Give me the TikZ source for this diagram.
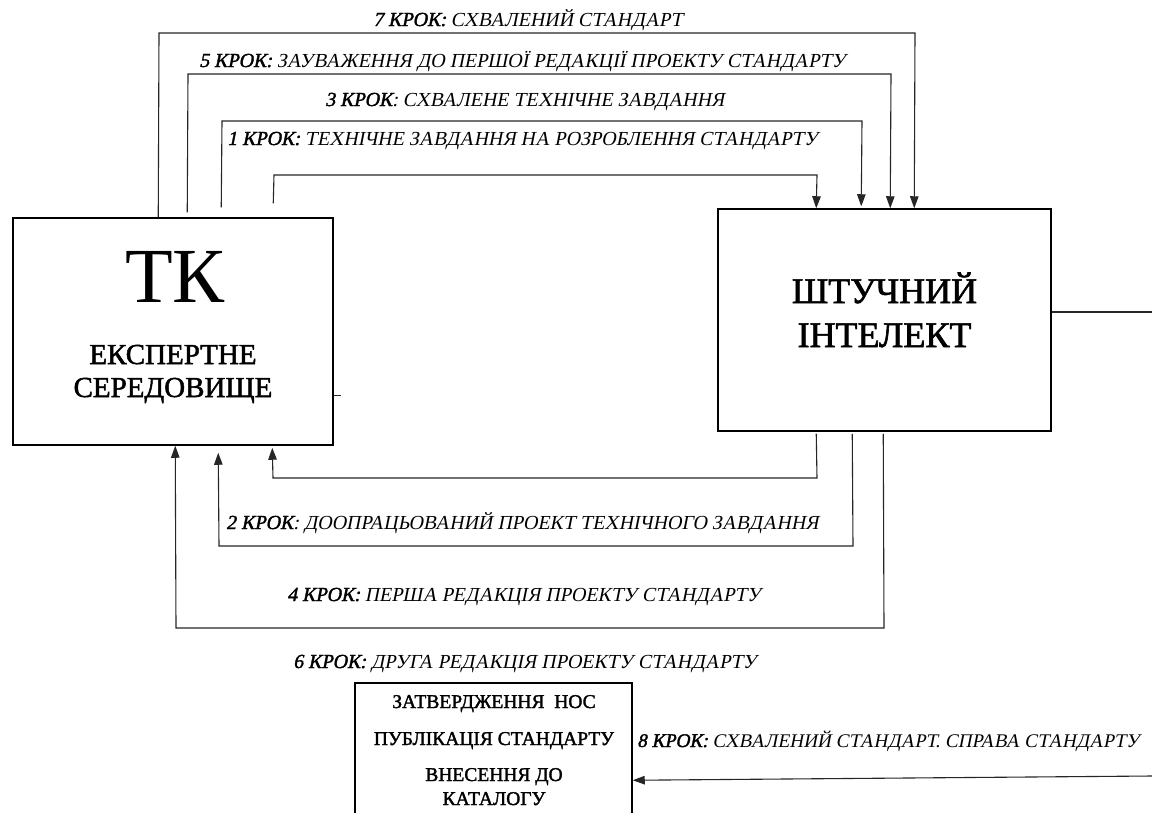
\documentclass[tikz,border=0pt]{standalone}
\usepackage{fontspec}
\setmainfont{Liberation Serif}[
  BoldFont={Liberation Serif}, BoldFeatures={FakeBold=1.7},
  ItalicFont={Liberation Serif}, ItalicFeatures={FakeSlant=0.2},
  BoldItalicFont={Liberation Serif}, BoldItalicFeatures={FakeBold=1.7,FakeSlant=0.2}]
\usetikzlibrary{arrows.meta,calc}
\begin{document}
\begin{tikzpicture}[x=1pt,y=-1pt,
  ln/.style={line width=1.1pt, draw=black!85},
  box/.style={draw, line width=1.5pt, inner sep=0pt, fill=none},
  arr/.style={ln, -{Triangle[length=12pt,width=8.5pt]}},
  lbl/.style={font=\fontsize{19.9}{24}\selectfont\itshape, inner sep=0pt, anchor=base west},
  big/.style={font=\fontsize{29}{32}\selectfont\bfseries, inner sep=0pt, anchor=base},
  ai/.style={font=\fontsize{36}{40}\selectfont\bfseries, inner sep=0pt, anchor=base},
  cat/.style={font=\fontsize{19.5}{24}\selectfont\bfseries, inner sep=0pt, anchor=base}]
\useasboundingbox (0,0) rectangle (1152,812);
\fill[white] (0,0) rectangle (1152,812);

% boxes
\node[box, minimum width=320pt, minimum height=227pt] (tk) at (173,331.5) {};
\node[box, minimum width=333pt, minimum height=222pt] (ai) at (884.5,320) {};
\node[box, minimum width=277pt, minimum height=160pt] (cat) at (493.5,763) {};

% box texts
\node[font=\fontsize{78}{80}\selectfont, inner sep=0pt, anchor=base] (tkt) at (175,302) {ТК};
\node[big] (tk1) at (173,364) {ЕКСПЕРТНЕ};
\node[big] (tk2) at (173,397) {СЕРЕДОВИЩЕ};
\node[ai] (ai1) at (884.5,303) {ШТУЧНИЙ};
\node[ai] (ai2) at (884.5,347) {ІНТЕЛЕКТ};
\node[cat] (c1) at (494,708) {ЗАТВЕРДЖЕННЯ~ НОС};
\node[cat] (c2) at (494,745) {ПУБЛІКАЦІЯ СТАНДАРТУ};
\node[cat] (c3) at (494,781) {ВНЕСЕННЯ ДО};
\node[cat] (c4) at (494,805) {КАТАЛОГУ};

% labels
\node[lbl] (l7) at (373,26) {\textbf{7 КРОК:} СХВАЛЕНИЙ СТАНДАРТ};
\node[lbl] (l5) at (199,67) {\textbf{5 КРОК:} ЗАУВАЖЕННЯ ДО ПЕРШОЇ РЕДАКЦІЇ ПРОЕКТУ СТАНДАРТУ};
\node[lbl] (l3) at (325,106) {\textbf{3 КРОК}: СХВАЛЕНЕ ТЕХНІЧНЕ ЗАВДАННЯ};
\node[lbl] (l1) at (227,145) {\textbf{1 КРОК:} ТЕХНІЧНЕ ЗАВДАННЯ НА РОЗРОБЛЕННЯ СТАНДАРТУ};
\node[lbl] (l2) at (226,529) {\textbf{2 КРОК}: ДООПРАЦЬОВАНИЙ ПРОЕКТ ТЕХНІЧНОГО ЗАВДАННЯ};
\node[lbl] (l4) at (287,601) {\textbf{4 КРОК:} ПЕРША РЕДАКЦІЯ ПРОЕКТУ СТАНДАРТУ};
\node[lbl] (l6) at (293,668) {\textbf{6 КРОК:} ДРУГА РЕДАКЦІЯ ПРОЕКТУ СТАНДАРТУ};
\node[lbl, font=\fontsize{19.3}{24}\selectfont\itshape] (l8) at (637,747) {\textbf{8 КРОК:} СХВАЛЕНИЙ СТАНДАРТ. СПРАВА СТАНДАРТУ};

% top connectors: TK -> AI
\draw[arr] ($(tk.north west)+(146,0)$) -- (159,33) -- (915,33) -- ($(ai.north west)+(197,0)$);
\draw[arr] ($(tk.north west)+(175,-5)$) -- (188,74) -- (891,74) -- ($(ai.north west)+(173,0)$);
\draw[arr] ($(tk.north west)+(209,-10)$) -- (222,121) -- (862,121) -- ($(ai.north west)+(144,-2)$);
\draw[arr] ($(tk.north west)+(261,-14)$) -- (274,175) -- (817,175) -- ($(ai.north west)+(99,0)$);

% bottom connectors: AI -> TK
\draw[arr] ($(ai.south west)+(99,2)$) -- (817,478) -- (273,478) -- ($(tk.south west)+(260,2)$);
\draw[arr] ($(ai.south west)+(135,2)$) -- (853,546) -- (219,546) -- ($(tk.south west)+(206,7)$);
\draw[arr] ($(ai.south west)+(166,2)$) -- (884,628) -- (176,628) -- ($(tk.south west)+(163,0)$);

% right-side lines
\coordinate (r1) at (1152,312);
\draw[ln] (ai.east |- r1) -- (r1);
\coordinate (r2) at (1152,776);
\draw[arr] (r2) -- ($(cat.north east)+(0,98)$);
% small stub
\draw[ln] ($(tk.south east)+(0,-50)$) -- ++(7,0);
\end{tikzpicture}
\end{document}
